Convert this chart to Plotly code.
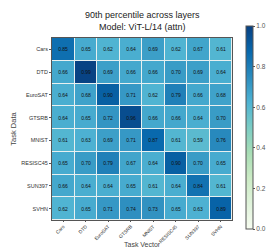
import plotly.graph_objects as go

tasks = ["Cars", "DTD", "EuroSAT", "GTSRB", "MNIST", "RESISC45", "SUN397", "SVHN"]
row_cars = [0.85, 0.65, 0.62, 0.64, 0.69, 0.62, 0.67, 0.61]
row_dtd = [0.66, 0.99, 0.69, 0.66, 0.66, 0.70, 0.69, 0.64]
row_eurosat = [0.64, 0.68, 0.90, 0.71, 0.62, 0.79, 0.66, 0.68]
row_gtsrb = [0.64, 0.65, 0.72, 0.96, 0.66, 0.66, 0.64, 0.70]
row_mnist = [0.61, 0.63, 0.69, 0.71, 0.87, 0.61, 0.59, 0.76]
row_resisc = [0.65, 0.70, 0.79, 0.67, 0.64, 0.90, 0.70, 0.65]
row_sun = [0.66, 0.64, 0.64, 0.65, 0.61, 0.64, 0.84, 0.61]
row_svhn = [0.62, 0.65, 0.71, 0.74, 0.73, 0.65, 0.63, 0.89]
z = [row_cars, row_dtd, row_eurosat, row_gtsrb, row_mnist, row_resisc, row_sun, row_svhn]
cb_ticks = [0.0, 0.2, 0.4, 0.6, 0.8, 1.0]

font = "Liberation Sans, Arial, sans-serif"

fig = go.Figure(go.Heatmap(
    z=z, x=tasks, y=tasks,
    zmin=0, zmax=1, colorscale="GnBu",
    xgap=1, ygap=1,
    texttemplate="%{z:.2f}",
    textfont=dict(size=5, color="#111", family=font),
    colorbar=dict(
        x=1.078, xanchor="left", thickness=7, xpad=0, ypad=0,
        lenmode="pixels", len=203, y=0.508, yanchor="middle",
        outlinewidth=1, outlinecolor="#555",
        tickvals=cb_ticks, ticktext=[f"{v:.1f}" for v in cb_ticks],
        ticks="outside", ticklen=2, tickcolor="#555",
        tickfont=dict(size=6.5, color="#555", family=font),
        title=dict(text="Subspace Affinity", side="right",
                   font=dict(size=6, color="#555", family=font)),
    ),
))

fig.update_layout(
    width=274, height=250,
    margin=dict(l=44, r=50, t=30, b=38, autoexpand=False),
    paper_bgcolor="white", plot_bgcolor="#e8f0f0",
    font=dict(family=font),
    annotations=[
        dict(text="90th percentile across layers<br>Model: ViT-L/14 (attn)",
             xref="paper", yref="paper", x=0.5, y=1, xanchor="center", yanchor="bottom",
             yshift=4, showarrow=False, align="center",
             font=dict(size=9, color="#222", family=font)),
        dict(text="Task Vector",
             xref="paper", yref="paper", x=0.5, y=0, xanchor="center", yanchor="middle",
             yshift=-24, showarrow=False,
             font=dict(size=7, color="#444", family=font)),
    ],
)
fig.update_xaxes(
    tickangle=-45, tickfont=dict(size=4.8, color="#333"),
    showline=True, mirror=True, linecolor="#555", linewidth=1,
    ticks="outside", ticklen=1, tickcolor="#555", showgrid=False, zeroline=False,
)
fig.update_yaxes(
    autorange="reversed", tickfont=dict(size=5.5, color="#333"),
    title=dict(text="Task Data", font=dict(size=7.5, color="#444"), standoff=3),
    showline=True, mirror=True, linecolor="#555", linewidth=1,
    ticks="outside", ticklen=2, tickcolor="#555", showgrid=False, zeroline=False,
)

fig.write_html("out.html")
